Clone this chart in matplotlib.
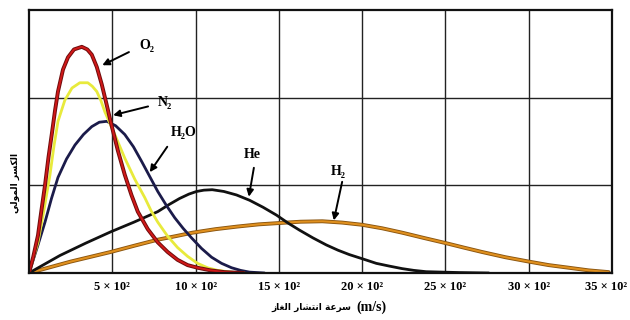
import matplotlib
matplotlib.use("Agg")
import matplotlib.pyplot as plt
import matplotlib.patheffects as pe
from matplotlib.transforms import ScaledTranslation

# speeds in m/s, heights in grid units
o2_v = [0, 25, 54, 75, 96, 117, 138, 156, 174, 204, 234, 270, 317, 350, 377, 407, 437, 465,
        491, 533, 575, 615, 653, 713, 773, 832, 892, 952, 1012, 1090, 1174, 1290]
o2_f = [0, 0.18, 0.43, 0.72, 1.00, 1.32, 1.60, 1.85, 2.07, 2.32, 2.46, 2.55, 2.58, 2.55, 2.49,
        2.35, 2.15, 1.93, 1.72, 1.40, 1.12, 0.89, 0.70, 0.50, 0.35, 0.24, 0.15, 0.09, 0.06,
        0.03, 0.01, 0]

n2_v = [0, 54, 90, 126, 150, 174, 215, 258, 305, 353, 380, 407, 431, 455, 515, 575, 635, 695,
        733, 773, 832, 892, 952, 1012, 1072, 1132, 1210, 1294]
n2_f = [0, 0.35, 0.72, 1.12, 1.45, 1.73, 1.97, 2.11, 2.17, 2.17, 2.13, 2.07, 1.97, 1.84, 1.58,
        1.31, 1.07, 0.86, 0.71, 0.58, 0.42, 0.29, 0.19, 0.11, 0.06, 0.03, 0.01, 0]

h2o_v = [0, 54, 96, 135, 174, 225, 276, 327, 377, 422, 467, 520, 575, 627, 677, 725, 773, 825,
         875, 925, 976, 1036, 1096, 1156, 1216, 1270, 1324, 1414]
h2o_f = [0, 0.32, 0.58, 0.85, 1.09, 1.30, 1.46, 1.58, 1.67, 1.72, 1.73, 1.68, 1.58, 1.44, 1.27,
         1.10, 0.93, 0.77, 0.63, 0.51, 0.40, 0.28, 0.18, 0.11, 0.06, 0.03, 0.01, 0]

he_v = [0, 186, 340, 491, 630, 773, 840, 904, 960, 1006, 1050, 1100, 1170, 1246, 1324, 1405,
        1486, 1555, 1623, 1705, 1785, 1855, 1923, 2005, 2085, 2160, 2240, 2310, 2384, 2582, 2761]
he_f = [0, 0.20, 0.34, 0.47, 0.58, 0.70, 0.78, 0.85, 0.90, 0.93, 0.945, 0.95, 0.93, 0.89, 0.83,
        0.75, 0.66, 0.57, 0.49, 0.40, 0.32, 0.26, 0.21, 0.16, 0.11, 0.08, 0.05, 0.03, 0.015,
        0.005, 0]

h2_v = [0, 250, 491, 630, 773, 880, 982, 1120, 1252, 1380, 1503, 1630, 1761, 1880, 2000, 2120,
        2240, 2370, 2504, 2610, 2719, 2860, 3001, 3120, 3241, 3360, 3480]
h2_f = [0, 0.13, 0.24, 0.31, 0.38, 0.42, 0.46, 0.50, 0.53, 0.555, 0.57, 0.585, 0.59, 0.575,
        0.55, 0.51, 0.46, 0.40, 0.34, 0.29, 0.24, 0.18, 0.13, 0.09, 0.06, 0.03, 0.01]

tick_vals = [500, 1000, 1500, 2000, 2500, 3000, 3500]
tick_labels = ["5 × 10²", "10 × 10²", "15 × 10²", "20 × 10²", "25 × 10²", "30 × 10²", "35 × 10²"]

# Arabic in presentation forms, visual order (matplotlib does no shaping)
xlabel_ar = "\uFEAF\uFE8E\uFED0\uFEDF\uFE8D \uFEAD\uFE8E\uFEB8\uFE98\uFEE7\uFE8D \uFE94\uFECB\uFEAE\uFEB3"  # سرعة انتشار الغاز
ylabel_ar = "\uFEF2\uFEDF\uFEEE\uFEE4\uFEDF\uFE8D \uFEAE\uFEB4\uFEDC\uFEDF\uFE8D"  # الكسر المولي

fig = plt.figure(figsize=(6.3, 3.2), dpi=100)
ax = fig.add_axes([29 / 630, 47 / 320, 583 / 630, 263 / 320])


def edged(c):
    return [pe.Stroke(linewidth=2.8, foreground=c), pe.Normal()]


kw = dict(solid_joinstyle="round", solid_capstyle="round")
ax.plot(h2_v, h2_f, color="#e0901e", lw=1.5, path_effects=edged("#8a5510"), **kw)
ax.plot(he_v, he_f, color="#111111", lw=2.0, **kw)
ax.plot(h2o_v, h2o_f, color="#1b1b4a", lw=2.0, **kw)
ax.plot(n2_v, n2_f, color="#e8ea3c", lw=2.0, **kw)
ax.plot(o2_v, o2_f, color="#d01818", lw=1.4, path_effects=edged("#6e0c0c"), **kw)

ax.set_xlim(0, 3500)
ax.set_ylim(0, 3)
ax.set_xticks(tick_vals)
ax.set_xticklabels(tick_labels, family="Liberation Serif", fontsize=9, fontweight="bold")
ax.set_yticks([1, 2])
ax.set_yticklabels([])
ax.tick_params(length=0, pad=6)
ax.grid(True, color="#222222", lw=1.0)
for s in ax.spines.values():
    s.set_linewidth(1.6)
    s.set_color("#111111")
# last label sits at the figure edge; pull it in a little
last = ax.get_xticklabels()[-1]
last.set_transform(last.get_transform() + ScaledTranslation(-6 / 100, 0, fig.dpi_scale_trans))

labels = [
    ("O₂", (440, 2.37), (600, 2.52), (665, 2.52)),
    ("N₂", (505, 1.80), (715, 1.90), (775, 1.87)),
    ("H₂O", (725, 1.15), (830, 1.44), (850, 1.53)),
    ("He", (1320, 0.87), (1350, 1.20), (1290, 1.28)),
    ("H₂", (1830, 0.60), (1880, 1.04), (1810, 1.08)),
]
for name, tip, tail, txt in labels:
    ax.annotate("", xy=tip, xytext=tail,
                arrowprops=dict(arrowstyle="-|>", color="black", lw=1.4,
                                mutation_scale=10, shrinkA=0, shrinkB=0))
    ax.text(txt[0], txt[1], name, family="Liberation Serif", fontweight="bold",
            fontsize=10, va="bottom", ha="left")

fig.text(311 / 630, 1 - 307 / 320, xlabel_ar, family=["DejaVu Sans"], fontweight="bold",
         fontsize=6.5, ha="center", va="center")
fig.text(371 / 630, 1 - 307 / 320, "(m/s)", family="Liberation Serif", fontweight="bold",
         fontsize=10, ha="center", va="center")
fig.text(15 / 630, 1 - 183 / 320, ylabel_ar, family=["DejaVu Sans"], fontweight="bold",
         fontsize=6.5, ha="center", va="center", rotation=90)

fig.savefig("out.png", dpi=100)
